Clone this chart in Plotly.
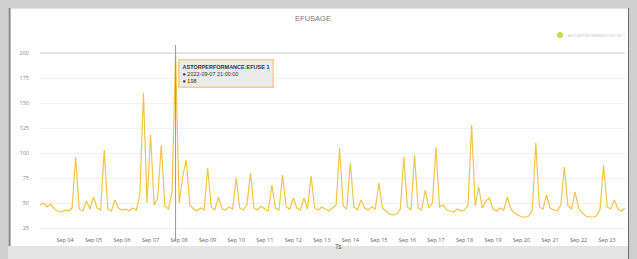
import plotly.graph_objects as go
import pandas as pd

series_name = "ASTORPERFORMANCE:EFUSE 1"
title_text = "EFUSAGE"
x_title = "Ts"
start_time = "2022-09-03 03:00"
step = "3h"
values = [
    48, 50, 46, 49, 44, 42, 41, 43, 42, 45,
    96, 44, 42, 52, 44, 56, 45, 43, 103, 44,
    42, 53, 45, 43, 44, 42, 45, 43, 58, 160,
    50, 118, 48, 55, 108, 47, 44, 60, 198, 50,
    76, 93, 48, 44, 42, 45, 43, 85, 46, 43,
    56, 44, 43, 46, 44, 75, 45, 43, 48, 80,
    45, 43, 47, 44, 42, 68, 45, 43, 78, 46,
    44, 55, 45, 43, 55, 44, 77, 45, 43, 46,
    44, 42, 45, 48, 105, 47, 44, 90, 46, 43,
    53, 45, 43, 46, 44, 70, 45, 42, 39, 38,
    39, 44, 96, 46, 43, 98, 45, 43, 63, 45,
    50, 106, 46, 48, 43, 42, 41, 44, 42, 43,
    48, 128, 47, 66, 45, 52, 55, 44, 42, 45,
    43, 56, 44, 40, 38, 36, 36, 37, 43, 110,
    46, 44, 58, 45, 43, 42, 48, 86, 47, 44,
    61, 45, 40, 37, 36, 36, 37, 44, 88, 46,
    44, 53, 44, 42, 45,
]
y_ticks = [25, 50, 75, 100, 125, 150, 175, 200]
hover_index = 38

times = pd.date_range(start_time, periods=len(values), freq=step)
hx = times[hover_index]
hv = values[hover_index]

# The page body has an 8px margin, so the figure is drawn at (8, 8).
# Helpers take page pixel coordinates (plot area 40..625 x, 45..233 y).
def px(v):
    return (v - 40) / 585.0

def py(v):
    return (233 - v) / 188.0

fig = go.Figure()
fig.add_trace(go.Scatter(
    x=times, y=values, mode="lines", name=series_name, showlegend=False,
    line=dict(color="#F2C447", width=1.2),
))

shapes = [
    dict(type="rect", xref="paper", yref="paper", x0=px(11), x1=px(628), y0=py(246), y1=py(9),
         fillcolor="#ffffff", line=dict(width=0), layer="below"),
    dict(type="rect", xref="paper", yref="paper", x0=px(628), x1=px(640), y0=py(262), y1=py(-3),
         fillcolor="#6a6a6a", line=dict(width=0), layer="below"),
    dict(type="line", xref="paper", yref="paper", x0=px(9.5), x1=px(9.5), y0=py(246), y1=py(8),
         line=dict(color="#8a8a8a", width=2)),
    dict(type="line", xref="paper", yref="y", x0=0, x1=1, y0=200, y1=200,
         line=dict(color="#d4d4d4", width=1)),
    dict(type="line", xref="x", yref="paper", x0=hx, x1=hx, y0=py(241), y1=py(45),
         line=dict(color="#9a9a9a", width=1)),
    # legend symbol (dot)
    dict(type="circle", xref="paper", yref="paper", x0=px(557), x1=px(563), y0=py(38), y1=py(32),
         fillcolor="#c8d84a", line=dict(width=0)),
]

annotations = [
    dict(x=hx, xref="x", y=py(59), yref="paper", xanchor="left", yanchor="top",
         xshift=2, showarrow=False, align="left",
         text=f"<b>{series_name}</b><br>● {hx.strftime('%Y-%m-%d %H:%M:%S')}<br>● {hv}",
         font=dict(size=5.5, color="#333333", family="Liberation Sans"),
         bgcolor="#ebebeb", bordercolor="#f2d27a", borderwidth=1.5, borderpad=3),
    dict(x=px(338), xref="paper", y=py(252), yref="paper", showarrow=False,
         text=x_title, font=dict(size=6.5, color="#555555", family="Liberation Sans")),
    dict(x=px(566), xref="paper", y=py(35), yref="paper", xanchor="left", yanchor="middle",
         showarrow=False, text=series_name, font=dict(size=4, color="#c4c4c4")),
]

W, H = 629, 251
fig.update_layout(
    width=W, height=H,
    margin=dict(l=32, r=12, t=37, b=26),
    paper_bgcolor="#e4e4e4",
    plot_bgcolor="#ffffff",
    title=dict(text=title_text, x=(313 - 8) / W, xanchor="center", y=1 - (18 - 8) / H,
               yanchor="middle", yref="container",
               font=dict(size=7.5, color="#777777", family="Liberation Sans")),
    showlegend=False,
    xaxis=dict(range=[times[0], times[-1]], type="date", showgrid=False, zeroline=False,
               showline=False, ticks="", dtick=86400000, tick0="2022-09-04",
               tickformat="%b %d", tickfont=dict(size=5.5, color="#666666"),
               ticklabelstandoff=2, automargin=False),
    yaxis=dict(range=[20, 208], tickvals=y_ticks, showgrid=True, gridcolor="#f3f3f3",
               zeroline=False, showline=False, ticks="", automargin=False,
               tickfont=dict(size=5.5, color="#888888"), ticklabelstandoff=10),
    shapes=shapes,
    annotations=annotations,
    hovermode=False,
)
fig.write_html("out.html", post_script="document.body.style.background='#cfcfcf';")
